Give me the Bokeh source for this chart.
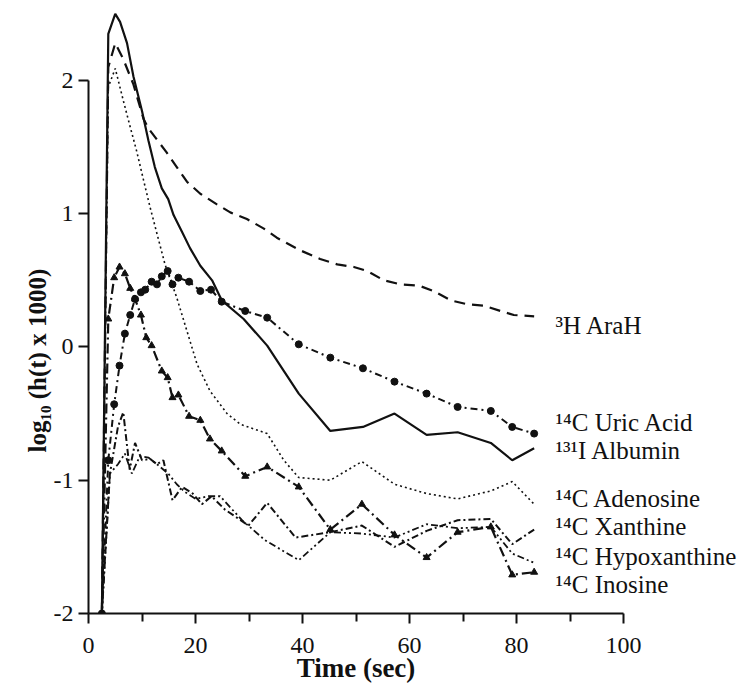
from bokeh.plotting import figure
from bokeh.models import Range1d, FixedTicker, LinearAxis, Title
from bokeh.embed import file_html
from bokeh.resources import INLINE

# ---------------- data ----------------
albumin_t = [2.5, 3.7, 5.0, 5.9, 7.2, 8.4, 10.0, 11.2, 12.4, 13.7, 14.9, 15.9, 17.4, 19.0,
             20.9, 23.1, 24.9, 29.0, 33.4, 36.5, 39.3, 45.2, 51.3, 57.2, 63.2, 69.0, 75.2, 79.2, 83.3]
albumin_y = [-2.0, 2.35, 2.50, 2.44, 2.28, 2.03, 1.77, 1.55, 1.35, 1.19, 1.11, 0.99, 0.87, 0.74,
             0.61, 0.50, 0.35, 0.21, 0.01, -0.18, -0.35, -0.63, -0.60, -0.50, -0.66, -0.64, -0.72, -0.85, -0.76]

arah_t = [2.5, 3.7, 5.0, 6.5, 8.4, 10.3, 11.2, 14.6, 16.5, 18.4, 20.9, 24.0, 26.5, 29.6, 32.7,
          35.2, 39.3, 43.3, 46.5, 49.6, 52.1, 55.2, 58.3, 61.8, 64.5, 67.7, 70.8, 73.9, 77.0, 79.5, 83.3]
arah_y = [-2.0, 2.10, 2.28, 2.16, 1.97, 1.71, 1.64, 1.46, 1.35, 1.24, 1.15, 1.07, 1.01, 0.96, 0.89,
          0.82, 0.73, 0.66, 0.62, 0.60, 0.57, 0.50, 0.47, 0.46, 0.42, 0.35, 0.32, 0.31, 0.27, 0.24, 0.23]

adenosine_t = [2.5, 3.7, 5.0, 6.5, 7.8, 9.0, 10.3, 11.5, 12.8, 14.3, 16.5, 18.4, 20.3, 22.7, 25.9,
               28.4, 33.4, 36.5, 39.3, 45.2, 51.1, 57.2, 63.2, 69.0, 75.2, 79.2, 83.3]
adenosine_y = [-2.0, 1.95, 2.09, 1.85, 1.65, 1.47, 1.25, 1.05, 0.85, 0.62, 0.37, 0.12, -0.13, -0.33, -0.50,
               -0.58, -0.65, -0.85, -0.98, -1.00, -0.86, -1.03, -1.10, -1.14, -1.08, -1.01, -1.18]

uric_t = [2.5, 3.7, 4.8, 5.8, 6.8, 7.8, 8.7, 9.8, 10.6, 11.8, 12.8, 13.7, 14.8, 15.7, 16.8, 18.8,
          20.9, 22.9, 24.9, 29.3, 33.4, 39.3, 45.2, 51.3, 57.2, 63.2, 69.0, 75.2, 79.2, 83.3]
uric_y = [-2.0, -0.85, -0.43, -0.14, 0.10, 0.24, 0.36, 0.41, 0.43, 0.49, 0.47, 0.53, 0.57, 0.47, 0.52, 0.49,
          0.42, 0.43, 0.34, 0.27, 0.22, 0.02, -0.08, -0.16, -0.26, -0.35, -0.45, -0.48, -0.60, -0.65]

inosine_t = [2.5, 3.7, 4.8, 5.8, 6.8, 7.8, 8.7, 9.8, 10.8, 11.8, 13.7, 14.8, 15.7, 16.8, 18.8,
             20.9, 22.7, 24.9, 29.3, 33.4, 39.3, 45.2, 51.1, 57.2, 63.2, 69.0, 75.2, 79.2, 83.3]
inosine_y = [-2.0, 0.21, 0.52, 0.60, 0.55, 0.44, 0.36, 0.24, 0.07, 0.01, -0.18, -0.23, -0.38, -0.36, -0.52,
             -0.55, -0.69, -0.78, -0.97, -0.90, -1.05, -1.37, -1.18, -1.41, -1.58, -1.39, -1.35, -1.71, -1.69]

xanthine_t = [2.5, 4.0, 5.5, 6.5, 7.7, 8.7, 10.0, 11.5, 12.8, 14.0, 15.7, 17.5, 19.5, 21.2, 23.0,
              25.5, 29.9, 33.4, 38.7, 45.2, 51.1, 57.2, 63.2, 69.0, 75.2, 79.2, 83.3]
xanthine_y = [-2.0, -0.95, -0.60, -0.49, -0.92, -0.72, -0.85, -0.84, -0.88, -0.85, -1.15, -1.05, -1.10, -1.18, -1.12,
              -1.22, -1.34, -1.17, -1.43, -1.39, -1.34, -1.50, -1.38, -1.30, -1.29, -1.48, -1.37]

hypox_t = [2.5, 4.0, 5.5, 6.8, 8.1, 9.6, 11.2, 12.8, 14.9, 16.5, 18.1, 20.0, 22.4, 24.6, 28.7,
           33.0, 39.3, 45.2, 51.1, 57.2, 63.2, 69.0, 75.2, 79.2, 83.3]
hypox_y = [-2.0, -0.95, -0.88, -0.80, -0.95, -0.82, -0.83, -0.88, -0.95, -1.03, -1.09, -1.14, -1.12, -1.12, -1.30,
           -1.45, -1.60, -1.39, -1.40, -1.43, -1.33, -1.36, -1.35, -1.55, -1.62]

label_texts = ["³H AraH", "¹⁴C Uric Acid", "¹³¹I Albumin", "¹⁴C Adenosine",
               "¹⁴C Xanthine", "¹⁴C Hypoxanthine", "¹⁴C Inosine"]
label_y = [0.16, -0.565, -0.78, -1.14, -1.35, -1.57, -1.78]

x_ticks = [0, 20, 40, 60, 80, 100]
x_minor = [10, 30, 50, 70, 90]
y_ticks = [-2, -1, 0, 1, 2]
y_tick_labels = ["-2", "-1", "0", "1", "2"]

x_title = "Time (sec)"
y_title = "log₁₀ (h(t) x 1000)"

FONT = "Liberation Serif"

# ---------------- figure ----------------
p = figure(width=746, height=685, output_backend="svg", toolbar_location=None,
           x_range=Range1d(0, 100), y_range=Range1d(-2, 2.60),
           min_border_left=88, min_border_right=123, min_border_top=0, min_border_bottom=72)
p.outline_line_color = None
p.grid.visible = False
p.background_fill_color = "white"
p.border_fill_color = "white"

ink = "#111111"

# lines
p.line(arah_t, arah_y, line_color=ink, line_width=2.2, line_dash="11 7")
p.line(albumin_t, albumin_y, line_color=ink, line_width=2.2)
p.line(adenosine_t, adenosine_y, line_color=ink, line_width=1.6, line_dash="2 3")
p.line(uric_t, uric_y, line_color=ink, line_width=2, line_dash="7 4 2 4")
p.scatter(uric_t, uric_y, marker="circle", size=7, color=ink)
p.line(inosine_t, inosine_y, line_color=ink, line_width=2.2, line_dash="10 4 2 4")
p.scatter(inosine_t, inosine_y, marker="triangle", size=7, color=ink)
p.line(xanthine_t, xanthine_y, line_color=ink, line_width=2, line_dash="7 3 2 3")
p.line(hypox_t, hypox_y, line_color=ink, line_width=1.8, line_dash="2 3 2 3 7 3")

xax = p.below[0]
yax = p.left[0]

for ax in (xax, yax):
    ax.axis_line_width = 2
    ax.axis_line_color = ink
    ax.major_tick_line_width = 2
    ax.major_tick_line_color = ink
    ax.major_tick_in = 0
    ax.major_tick_out = 10
    ax.major_label_text_font = FONT
    ax.major_label_text_font_size = "24px"
    ax.major_label_text_color = ink

xax.ticker = FixedTicker(ticks=x_ticks, minor_ticks=x_minor)
xax.minor_tick_in = 0
xax.minor_tick_out = 8
xax.minor_tick_line_width = 2
xax.minor_tick_line_color = ink
xax.major_label_standoff = 14
xax.axis_label = x_title
xax.axis_label_text_font = FONT
xax.axis_label_text_font_style = "bold"
xax.axis_label_text_font_size = "27px"
xax.axis_label_text_color = ink
xax.axis_label_standoff = -3

yax.ticker = FixedTicker(ticks=y_ticks, minor_ticks=[])
yax.major_label_overrides = {v: t for v, t in zip(y_ticks, y_tick_labels)}
yax.bounds = (-2, 2)
yax.major_label_standoff = 5

# y title, placed along the left side and centred on the axis' own span
p.add_layout(Title(text=y_title, align="left", offset=161, standoff=0,
                   text_font=FONT, text_font_style="bold", text_font_size="25px",
                   text_color=ink), "left")

# series names as the labels of an unlined right-hand axis
names_axis = LinearAxis(ticker=FixedTicker(ticks=label_y, minor_ticks=[]),
                        major_label_overrides={v: t for v, t in zip(label_y, label_texts)},
                        axis_line_color=None, major_tick_line_color=None,
                        minor_tick_line_color=None, major_tick_in=0, major_tick_out=0,
                        major_label_standoff=-68, major_label_text_font=FONT,
                        major_label_text_font_size="25px", major_label_text_color=ink)
p.add_layout(names_axis, "right")

open("out.html", "w").write(file_html(p, INLINE))
